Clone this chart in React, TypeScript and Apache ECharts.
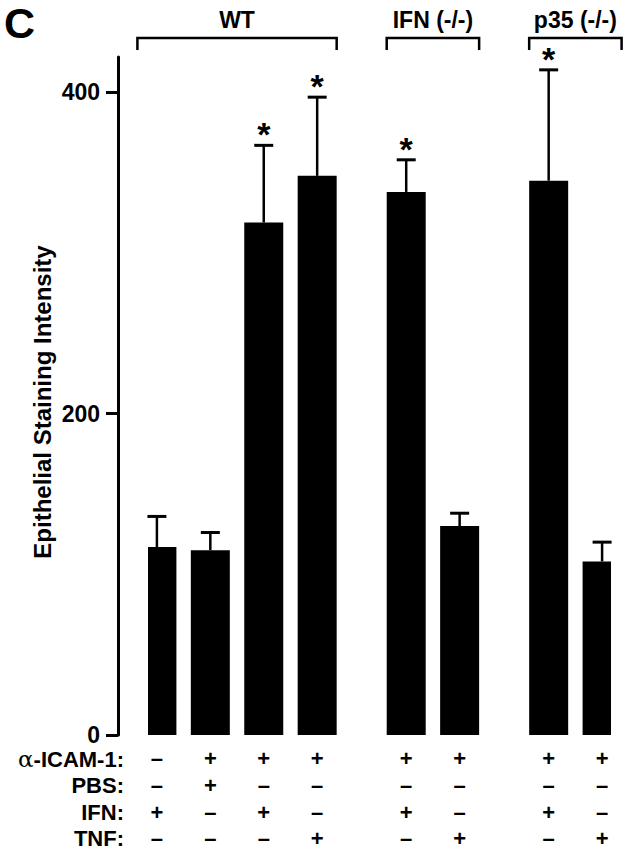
import React, { useEffect, useRef } from 'react';
import * as echarts from 'echarts';

// ---- data ----
const panelLetter = 'C';
const yAxisName = 'Epithelial Staining Intensity';
const groupLabels = ['WT', 'IFN (-/-)', 'p35 (-/-)'];
const groupSizes = [4, 2, 2];
const means = [117, 115, 319, 348, 338, 130, 345, 108];
const errUpper = [136, 126, 367, 397, 358, 138, 414, 120];
const significant = [false, false, true, true, true, false, true, false];
const yTicks = [0, 200, 400];
const rowLabels = ['{a|α}-ICAM-1:', 'PBS:', 'IFN:', 'TNF:'];
const icam = ['–', '+', '+', '+', '+', '+', '+', '+'];
const pbs = ['–', '+', '–', '–', '–', '–', '–', '–'];
const ifn = ['+', '–', '+', '–', '+', '–', '+', '–'];
const tnf = ['–', '–', '–', '+', '–', '+', '–', '+'];

const FONT = '"Liberation Sans", Arial, Helvetica, sans-serif';

export default function App() {
  const ref = useRef<HTMLDivElement>(null);
  useEffect(() => {
    if (!ref.current) return;
    const chart = echarts.init(ref.current, null, { renderer: 'svg' });
    const STEP = 3;
    const GAP = 5;
    const barSlots: number[] = [];
    let s = 0;
    groupSizes.forEach((n) => {
      for (let i = 0; i < n; i++) {
        barSlots.push(s);
        if (i < n - 1) s += STEP;
      }
      s += GAP;
    });
    const nSlots = barSlots[barSlots.length - 1] + 1;
    const slotBar: number[] = new Array(nSlots).fill(-1);
    barSlots.forEach((sl, i) => (slotBar[sl] = i));
    const cats = slotBar.map((b, i) => (b >= 0 ? 'bar' + b : 'gap' + i));
    const barData = slotBar.map((b) => (b >= 0 ? means[b] : '-'));
    const errData = barSlots.map((sl, i) => [sl, means[i], errUpper[i], significant[i] ? 1 : 0]);
    const BW = 39;
    const ROW0 = 759;
    const ROWH = 26.6;

    chart.setOption({
      animation: false,
      grid: { left: 148, right: 17, top: 57, bottom: 117 },
      xAxis: {
        type: 'category',
        data: cats,
        axisLine: { show: false },
        axisTick: { show: false },
        axisLabel: {
          interval: 0,
          margin: ROW0 - 735 - ROWH / 2,
          lineHeight: ROWH,
          fontSize: 22,
          fontWeight: 'bold',
          color: '#000',
          fontFamily: FONT,
          formatter: (_v: string, idx: number) => {
            const b = slotBar[idx];
            if (b < 0) return '';
            return [icam[b], pbs[b], ifn[b], tnf[b]].join('\n');
          },
        },
      },
      yAxis: {
        type: 'value',
        min: 0,
        max: 422,
        interval: 200,
        offset: 30,
        axisLine: { show: true, lineStyle: { color: '#000', width: 3 } },
        axisTick: { show: true, length: 12, customValues: yTicks, lineStyle: { color: '#000', width: 3 } },
        axisLabel: { customValues: yTicks, margin: 18, fontSize: 23, fontWeight: 'bold', color: '#000', fontFamily: FONT },
        splitLine: { show: false },
      },
      series: [
        { type: 'bar', data: barData, barWidth: BW, itemStyle: { color: '#000' } },
        {
          type: 'custom',
          data: errData,
          encode: { x: 0, y: 2 },
          z: 5,
          renderItem: (_p: any, api: any) => {
            const x = api.value(0);
            const top = api.coord([x, api.value(1)]);
            const up = api.coord([x, api.value(2)]);
            const children: any[] = [
              { type: 'line', shape: { x1: top[0], y1: top[1], x2: up[0], y2: up[1] }, style: { stroke: '#000', lineWidth: 2.5 } },
              { type: 'line', shape: { x1: up[0] - 9.5, y1: up[1], x2: up[0] + 9.5, y2: up[1] }, style: { stroke: '#000', lineWidth: 3 } },
            ];
            if (api.value(3)) {
              children.push({
                type: 'text',
                x: up[0],
                y: up[1] - 11,
                style: { text: '*', fill: '#000', fontSize: 34, fontWeight: 'bold', fontFamily: FONT, align: 'center', verticalAlign: 'middle' },
              });
            }
            return { type: 'group', children };
          },
        },
      ],
    });

    const px = (slot: number) => chart.convertToPixel({ xAxisIndex: 0 }, slot) as number;
    const elements: any[] = [];
    let bi = 0;
    groupSizes.forEach((n, g) => {
      const l = px(barSlots[bi]) - BW / 2;
      const r = px(barSlots[bi + n - 1]) + BW / 2;
      bi += n;
      elements.push({
        type: 'polyline',
        shape: { points: [[l, 50], [l, 38], [r, 38], [r, 50]] },
        style: { stroke: '#000', lineWidth: 2.5, fill: 'none' },
      });
      elements.push({
        type: 'text',
        x: (l + r) / 2,
        y: 20,
        style: { text: groupLabels[g], fill: '#000', font: `bold 23px ${FONT}`, textAlign: 'center', textVerticalAlign: 'middle', align: 'center', verticalAlign: 'middle' },
      });
    });
    rowLabels.forEach((t, i) => {
      elements.push({
        type: 'text',
        x: 124,
        y: ROW0 + ROWH * i,
        style: {
          text: t,
          fill: '#000',
          font: `bold 22px ${FONT}`,
          textAlign: 'right',
          textVerticalAlign: 'middle',
          align: 'right',
          verticalAlign: 'middle',
          rich: { a: { fontFamily: '"DejaVu Serif", serif', fontWeight: 'normal', fontSize: 23, fill: '#000' } },
        },
      });
    });
    elements.push({
      type: 'text',
      x: 42,
      y: 402,
      rotation: Math.PI / 2,
      style: { text: yAxisName, fill: '#000', font: `bold 24px ${FONT}`, textAlign: 'center', textVerticalAlign: 'middle', align: 'center', verticalAlign: 'middle' },
    });
    elements.push({
      type: 'text',
      x: 4,
      y: 1,
      style: { text: panelLetter, fill: '#000', font: `bold 43px ${FONT}`, textAlign: 'left', textVerticalAlign: 'top', align: 'left', verticalAlign: 'top' },
    });
    chart.setOption({ graphic: { elements } });

    return () => chart.dispose();
  }, []);
  return <div ref={ref} style={{ position: 'absolute', left: 0, top: 0, width: 628, height: 852 }} />;
}
